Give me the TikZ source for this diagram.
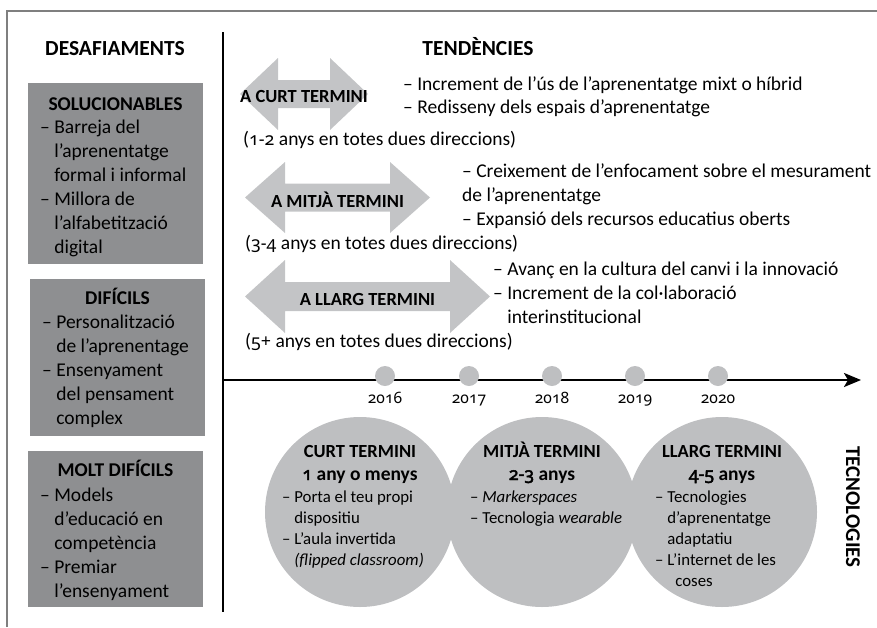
\documentclass[tikz,border=0pt]{standalone}
\usepackage{fontspec}
\setmainfont{Carlito}
\newfontfamily\osf{Noto Sans}[Numbers=OldStyle,Scale=0.92]
\newfontfamily\osfb{Noto Sans}[Numbers=OldStyle,Scale=0.92,FakeBold=2.5]
\usetikzlibrary{arrows.meta}
\definecolor{boxgray}{HTML}{8E8F91}
\definecolor{arrowgray}{HTML}{C3C4C6}
\definecolor{circgray}{HTML}{BEBFC1}
\definecolor{framegray}{HTML}{7F7F7F}
\newcommand\hind{\hphantom{– }}
\newcommand\textlines[6]{\foreach \ltx [count=\li from 0] in {#6} {\node[#2] (#1\li) at (#3,{#4+\li*#5}) {\ltx};}}
\newcommand\dblarrow[6]{%
 \fill[arrowgray] (#1,#3) -- ({#1+#4},{#3-#5}) -- ({#1+#4},{#3-#6}) -- ({#2-#4},{#3-#6}) -- ({#2-#4},{#3-#5}) -- (#2,#3) -- ({#2-#4},{#3+#5}) -- ({#2-#4},{#3+#6}) -- ({#1+#4},{#3+#6}) -- ({#1+#4},{#3+#5}) -- cycle;}
\begin{document}
\begin{tikzpicture}[x=1pt,y=-1pt,
  txt/.style={inner sep=0pt, anchor=base west, font=\fontsize{19.5}{24}\selectfont},
  ctxt/.style={inner sep=0pt, anchor=base west, font=\fontsize{16.8}{21}\selectfont},
  hdr/.style={inner sep=0pt, anchor=base, font=\bfseries\fontsize{21.5}{26}\selectfont},
  btitle/.style={inner sep=0pt, anchor=base, font=\bfseries\fontsize{19.5}{24}\selectfont},
  atitle/.style={inner sep=0pt, anchor=base, font=\bfseries\fontsize{18.5}{22}\selectfont},
  ctitle/.style={inner sep=0pt, anchor=base, font=\bfseries\fontsize{18.5}{22}\selectfont},
  csub/.style={inner sep=0pt, anchor=base, font=\bfseries\fontsize{19.5}{22}\selectfont},
  year/.style={inner sep=0pt, anchor=base, font=\osf\fontsize{17}{20}\selectfont},
  tdot/.style={circle, fill=circgray, minimum size=20pt, inner sep=0pt},
  bigcirc/.style={circle, fill=circgray, minimum size=190pt, inner sep=0pt}
]
\useasboundingbox (0,0) rectangle (877,627);
% frame
\draw[framegray, line width=1.5pt] (7,627) -- (7,11) -- (877,11);
% separator
\coordinate (septop) at (223,32);
\coordinate (sepbot) at (223,612);
\draw[line width=2pt] (septop) -- (sepbot);

% headings
\node[hdr] (desaf) at (115,55) {DESAFIAMENTS};
\node[hdr] (tend) at (478,55) {TENDÈNCIES};

% challenge boxes
\fill[boxgray] (28,83) rectangle (203,264);
\fill[boxgray] (30,279) rectangle (205,436);
\fill[boxgray] (28,451) rectangle (203,607);
\node[btitle] (soltit) at (115.5,110) {SOLUCIONABLES};
\textlines{sol}{txt}{40}{133}{24}{– Barreja del, \hind l’aprenentatge, \hind formal i informal, – Millora de, \hind l’alfabetització, \hind digital}
\node[btitle] (diftit) at (117.5,304) {DIFÍCILS};
\textlines{dif}{txt}{42}{328}{24}{– Personalització, \hind de l’aprenentage, – Ensenyament, \hind del pensament, \hind complex}
\node[btitle] (moltit) at (115.5,476) {MOLT DIFÍCILS};
\textlines{mol}{txt}{40}{501}{24}{– Models, \hind d’educació en, \hind competència, – Premiar, \hind l’ensenyament}

% trend arrows
\dblarrow{240}{368}{94}{38}{36}{14}
\node[atitle] (acurt) at (304,102) {A CURT TERMINI};
\textlines{tr1}{txt}{403}{90}{23.5}{– Increment de l’ús de l’aprenentatge mixt o híbrid, – Redisseny dels espais d’aprenentatge}
\node[txt] (par1) at (243,145) {({\osf 1-2} anys en totes dues direccions)};

\dblarrow{245}{430}{197.5}{40}{35.5}{14}
\node[atitle] (amitja) at (337.5,207) {A MITJÀ TERMINI};
\textlines{tr2}{txt}{462}{177}{24}{– Creixement de l’enfocament sobre el mesurament, de l’aprenentatge, – Expansió dels recursos educatius oberts}
\node[txt] (par2) at (245,249) {({\osf 3-4} anys en totes dues direccions)};

\dblarrow{245}{490}{296.5}{40}{36.5}{14.5}
\node[atitle] (allarg) at (367.5,305) {A LLARG TERMINI};
\textlines{tr3}{txt}{493}{275}{24}{– Avanç en la cultura del canvi i la innovació, – Increment de la col·laboració, \hind interinstitucional}
\node[txt] (par3) at (245,347) {({\osf 5+} anys en totes dues direccions)};

% timeline
\coordinate (tlstart) at (223,380);
\coordinate (tlend) at (861,380);
\draw[line width=2.5pt, -{Stealth[length=17pt,width=14pt,inset=4pt]}] (tlstart) -- (tlend);
\foreach \yr/\xx in {2016/385, 2017/469, 2018/552, 2019/635, 2020/718} {
  \node[tdot] (dot\yr) at (\xx,376) {};
  \node[year] (yr\yr) at (\xx,403) {\yr};
}

% technology circles
\node[bigcirc] (c1) at (360,512) {};
\node[bigcirc] (c2) at (542,512) {};
\node[bigcirc] (c3) at (722,512) {};

\node[ctitle] (c1t) at (360,457) {CURT TERMINI};
\node[csub] (c1s) at (360,480) {{\osfb 1} any o menys};
\textlines{c1l}{ctxt}{282}{502}{21}{– Porta el teu propi, \hind dispositiu, – L’aula invertida, \hind\textit{(flipped classroom)}}

\node[ctitle] (c2t) at (542,457) {MITJÀ TERMINI};
\node[csub] (c2s) at (542,480) {{\osfb 2-3} anys};
\textlines{c2l}{ctxt}{470}{502}{21}{– \textit{Markerspaces}, – Tecnologia \textit{wearable}}

\node[ctitle] (c3t) at (722,457) {LLARG TERMINI};
\node[csub] (c3s) at (722,480) {{\osfb 4-5} anys};
\textlines{c3l}{ctxt}{655}{502}{21}{– Tecnologies, \hind d’aprenentatge, \hind adaptatiu, – L’internet de les, \hind\hspace{8pt}coses}

\node[inner sep=0pt, rotate=-90, font=\bfseries\fontsize{21}{24}\selectfont] (tecno) at (853,507) {TECNOLOGIES};
\end{tikzpicture}
\end{document}
